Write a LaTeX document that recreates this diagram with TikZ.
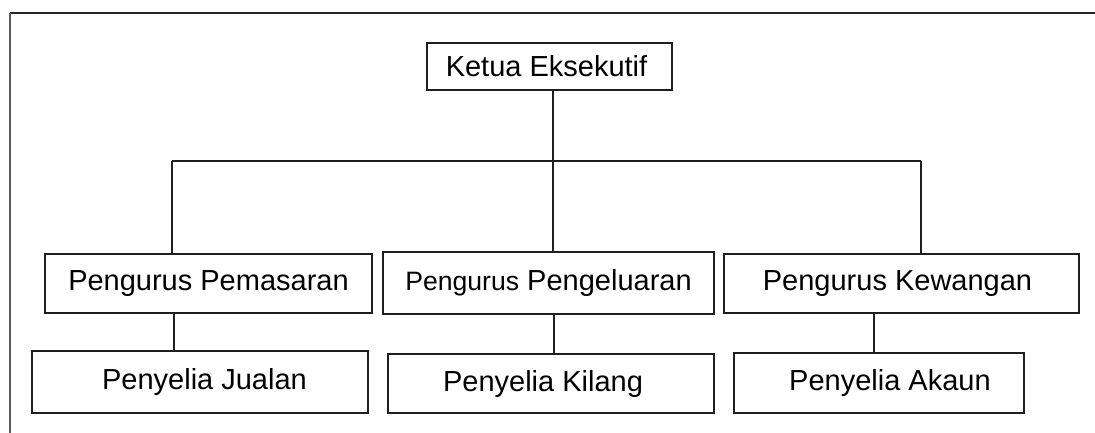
\documentclass[tikz,border=0pt]{standalone}
\usepackage{fontspec}
\setmainfont{Liberation Sans}
\begin{document}
\begin{tikzpicture}[x=1pt,y=-1pt,
  box/.style={draw=black!88, line width=1.4pt, inner sep=0pt, font=\fontsize{29}{33}\selectfont},
  link/.style={draw=black!88, line width=1.3pt}]
\useasboundingbox (0,0) rectangle (1095,433);
% frame
\draw[line width=2.4pt, black!85] (10,13) -- (1095,13);
\draw[line width=2.4pt, black!65] (10,13) -- (10,433);
% nodes
\node[box, minimum width=245pt, minimum height=47pt] (ceo) at (549.5,66.5) {\hspace*{-6pt}Ketua Eksekutif};
\node[box, minimum width=327pt, minimum height=59pt] (pem) at (208.5,283.5) {Pengurus Pemasaran};
\node[box, minimum width=331pt, minimum height=62pt] (pen) at (548.5,283) {{\fontsize{26.6}{30}\selectfont Pengurus} Pengeluaran};
\node[box, minimum width=355pt, minimum height=59pt] (kew) at (901.5,283.5) {\hspace*{-8pt}Pengurus Kewangan};
\node[box, minimum width=336pt, minimum height=62pt] (jua) at (200,382) {\hspace*{9pt}Penyelia Jualan};
\node[box, minimum width=326pt, minimum height=59pt] (kil) at (551,383.5) {\hspace*{-16pt}Penyelia Kilang};
\node[box, minimum width=290pt, minimum height=60pt] (aka) at (879,383) {\hspace*{22pt}Penyelia Akaun};
% connectors
\coordinate (hl) at (172,161);
\coordinate (hr) at (921,161);
\draw[link] (hl) -- (hr);
\draw[link] (ceo.south -| 553,0) -- (pen.north -| 553,0);
\draw[link] (hl) -- (pem.north -| hl);
\draw[link] (hr) -- (kew.north -| hr);
\draw[link] (pem.south -| 174,0) -- (jua.north -| 174,0);
\draw[link] (pen.south -| 554,0) -- (kil.north -| 554,0);
\draw[link] (kew.south -| 874,0) -- (aka.north -| 874,0);
\end{tikzpicture}
\end{document}
